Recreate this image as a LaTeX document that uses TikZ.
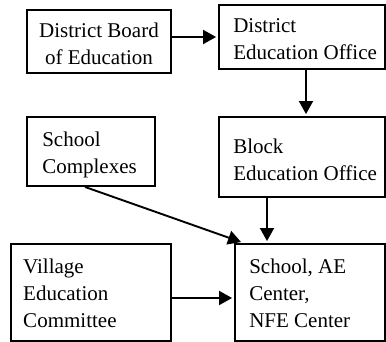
\documentclass[tikz,border=0pt]{standalone}
\usepackage{fontspec}
\setmainfont{Liberation Serif}
\usetikzlibrary{arrows.meta}
\begin{document}
\begin{tikzpicture}[x=1pt,y=-1pt,
  box/.style={draw, line width=1.9pt, rectangle, inner sep=0pt},
  lbl/.style={inner sep=0pt, align=left, font=\fontsize{21}{27}\selectfont},
  arr/.style={line width=1.9pt, -{Triangle[length=13pt,width=14pt]}}]
\useasboundingbox (0,0) rectangle (386,342);
% boxes
\node[box, minimum width=144pt, minimum height=63pt] (dbe) at (99,41.5) {};
\node[box, minimum width=166pt, minimum height=64pt] (deo) at (302,37) {};
\node[box, minimum width=128pt, minimum height=69pt] (sc) at (91,151.5) {};
\node[box, minimum width=166pt, minimum height=80pt] (beo) at (302,157) {};
\node[box, minimum width=160pt, minimum height=97pt] (vec) at (91,292.5) {};
\node[box, minimum width=150pt, minimum height=97pt] (sch) at (310,292.5) {};
% labels
\node[lbl, align=center] (tdbe) at ([yshift=-2pt]dbe.center) {District Board\\of Education};
\node[lbl, anchor=west] (tdeo) at ([xshift=15pt,yshift=-2pt]deo.west) {District\\Education Office};
\node[lbl, anchor=west] (tsc) at ([xshift=16pt,yshift=-3pt]sc.west) {School\\Complexes};
\node[lbl, anchor=west] (tbeo) at ([xshift=15pt,yshift=-3pt]beo.west) {Block\\Education Office};
\node[lbl, anchor=west] (tvec) at ([xshift=13pt,yshift=-1pt]vec.west) {Village\\Education\\Committee};
\node[lbl, anchor=west] (tsch) at ([xshift=15pt,yshift=-1pt]sch.west) {School, AE\\Center,\\NFE Center};
% connectors
\draw[arr] (dbe.east |- deo.west) -- ([xshift=-2pt]deo.west);
\draw[arr] ([xshift=4pt]deo.south) -- ([xshift=4pt,yshift=2pt]beo.north);
\draw[arr] ([xshift=-35pt]beo.south) -- ([xshift=-35pt,yshift=2pt]beo.south |- sch.north);
\draw[arr] ([xshift=-6pt]sc.south) -- ([xshift=7pt,yshift=1pt]sch.north west);
\draw[arr] ([yshift=-5.5pt]vec.east) -- ([yshift=-5.5pt,xshift=-2pt]vec.east -| sch.west);
\end{tikzpicture}
\end{document}
